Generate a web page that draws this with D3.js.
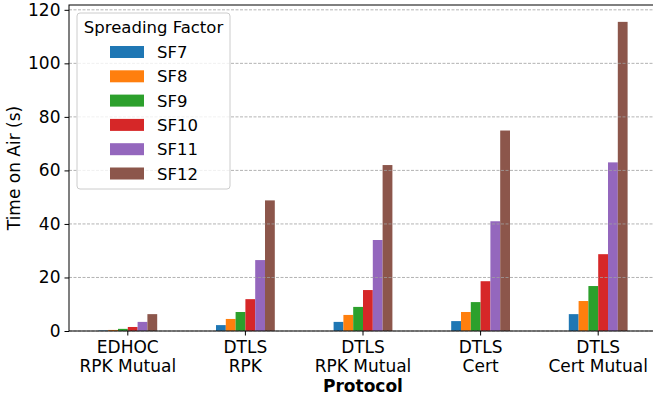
<!DOCTYPE html>
<html>
<head>
<meta charset="utf-8">
<script src="https://cdn.jsdelivr.net/npm/d3@7"></script>
<style>
body { margin: 0; background: #fff; }
text { font-family: "DejaVu Sans", sans-serif; fill: #000; }
</style>
</head>
<body>
<svg id="chart"></svg>
<script>
var protocols = ["EDHOC\nRPK Mutual", "DTLS\nRPK", "DTLS\nRPK Mutual", "DTLS\nCert", "DTLS\nCert Mutual"]
var factors = ["SF7", "SF8", "SF9", "SF10", "SF11", "SF12"]
var sf7 = [0.2, 2.2, 3.4, 3.7, 6.3]
var sf8 = [0.4, 4.5, 6.0, 7.1, 11.2]
var sf9 = [0.8, 7.1, 9.0, 10.8, 16.8]
var sf10 = [1.5, 11.9, 15.3, 18.6, 28.7]
var sf11 = [3.4, 26.5, 34.0, 41.0, 63.0]
var sf12 = [6.3, 48.8, 62.0, 74.9, 115.5]
var yTicks = [0, 20, 40, 60, 80, 100, 120]

var series = [sf7, sf8, sf9, sf10, sf11, sf12]
var colors = ["#1f77b4", "#ff7f0e", "#2ca02c", "#d62728", "#9467bd", "#8c564b"]

var width = 653
var height = 401
var plotLeft = 69, plotRight = 657, plotTop = 5, plotBottom = 331

var svg = d3.select("#chart").attr("width", width).attr("height", height)

var xScale = d3.scaleBand().domain(protocols).range([plotLeft, plotRight]).padding(0)
var yScale = d3.scaleLinear().domain([0, 121.8]).range([plotBottom, plotTop])
var inner = d3.scaleBand().domain(factors).range([0, xScale.bandwidth() * 0.5])

// bars
factors.forEach(function (f, i) {
	svg.append("g")
		.selectAll("rect")
		.data(series[i])
		.enter()
		.append("rect")
		.attr("x", function (d, j) {
			return xScale(protocols[j]) + xScale.bandwidth() * 0.25 + inner(f)
		})
		.attr("y", d => yScale(d))
		.attr("width", inner.bandwidth())
		.attr("height", d => plotBottom - yScale(d))
		.attr("fill", colors[i])
})

// grid over the bars
svg.append("g")
	.selectAll("line")
	.data(yTicks)
	.enter()
	.append("line")
	.attr("x1", plotLeft)
	.attr("x2", plotRight)
	.attr("y1", d => yScale(d))
	.attr("y2", d => yScale(d))
	.attr("stroke", "#a0a0a0")
	.attr("stroke-width", 0.8)
	.attr("stroke-dasharray", "3,1.5")

// y axis
var yAxis = svg.append("g")
	.attr("transform", "translate(" + plotLeft + ",0)")
	.call(d3.axisLeft(yScale).tickValues(yTicks).tickSize(4.5).tickPadding(4))
yAxis.select(".domain").remove()
yAxis.selectAll("text").style("font-size", "17px").style("font-family", "DejaVu Sans")

// x axis
var xAxis = svg.append("g")
	.attr("transform", "translate(0," + plotBottom + ")")
	.call(d3.axisBottom(xScale).tickSize(4.5).tickFormat(""))
xAxis.select(".domain").remove()

protocols.forEach(function (p) {
	var t = svg.append("text")
		.attr("x", xScale(p) + xScale.bandwidth() / 2)
		.attr("y", 353)
		.attr("text-anchor", "middle")
		.style("font-size", "17px")
	p.split("\n").forEach(function (line, k) {
		t.append("tspan")
			.attr("x", xScale(p) + xScale.bandwidth() / 2)
			.attr("dy", k == 0 ? 0 : 19)
			.text(line)
	})
})

// frame
svg.append("rect")
	.attr("x", plotLeft)
	.attr("y", plotTop)
	.attr("width", plotRight - plotLeft)
	.attr("height", plotBottom - plotTop)
	.attr("fill", "none")
	.attr("stroke", "#000")
	.attr("stroke-width", 1)

// axis titles
svg.append("text")
	.attr("x", xScale(protocols[2]) + xScale.bandwidth() / 2)
	.attr("y", 392)
	.attr("text-anchor", "middle")
	.style("font-size", "17px")
	.style("font-weight", "bold")
	.text("Protocol")

svg.append("text")
	.attr("transform", "translate(20," + (plotTop + plotBottom) / 2 + ") rotate(-90)")
	.attr("text-anchor", "middle")
	.style("font-size", "17px")
	.text("Time on Air (s)")

// legend
var legend = svg.append("g").attr("transform", "translate(77,13)")
legend.append("rect")
	.attr("width", 153)
	.attr("height", 176)
	.attr("rx", 3)
	.attr("fill", "#fff")
	.attr("fill-opacity", 0.8)
	.attr("stroke", "#cccccc")
legend.append("text")
	.attr("x", 76.5)
	.attr("y", 20)
	.attr("text-anchor", "middle")
	.style("font-size", "16.5px")
	.text("Spreading Factor")

var items = legend.selectAll(".item")
	.data(factors)
	.enter()
	.append("g")
	.attr("transform", (d, i) => "translate(0," + (39 + i * 24.3) + ")")
items.append("rect")
	.attr("x", 33)
	.attr("y", -6)
	.attr("width", 34)
	.attr("height", 12)
	.attr("fill", (d, i) => colors[i])
items.append("text")
	.attr("x", 80)
	.attr("y", 6)
	.style("font-size", "16.5px")
	.text(d => d)
</script>
</body>
</html>
